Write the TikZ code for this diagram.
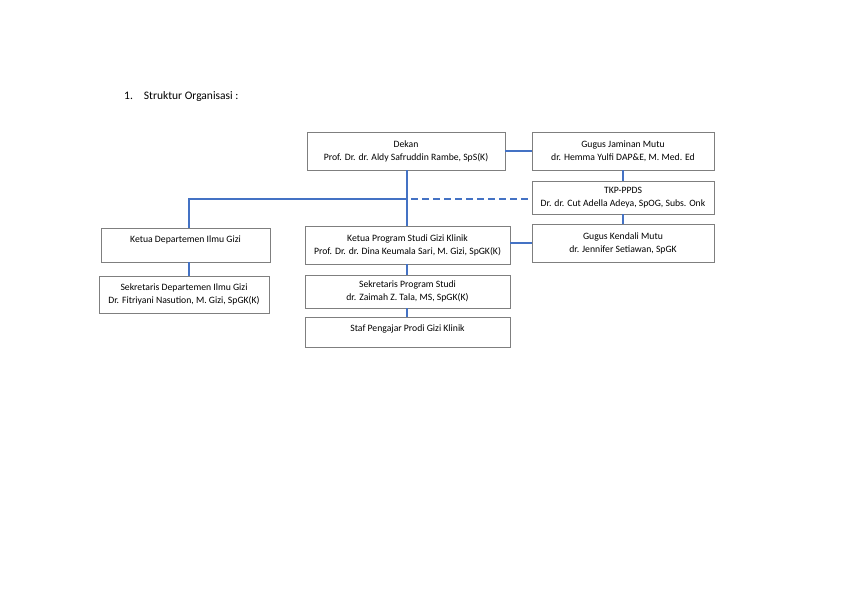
\documentclass[tikz,border=0pt]{standalone}
\usepackage{fontspec}
\setmainfont{Carlito}
\definecolor{lineblue}{HTML}{4472C4}
\definecolor{boxgray}{HTML}{7F7F7F}
\tikzset{
  boxfont/.style={font=\fontsize{9.7}{13}\selectfont},
  orgbox/.style={draw=boxgray, line width=0.8pt, fill=white, inner sep=0pt, boxfont, align=center},
  conn/.style={draw=lineblue, line width=2.2pt},
  connthin/.style={draw=lineblue, line width=1.6pt},
}
\begin{document}
\begin{tikzpicture}[x=1pt,y=-1pt]
\useasboundingbox (0,0) rectangle (842,595);
\node[anchor=west, font=\fontsize{11.5}{13}\selectfont, inner sep=0pt] (title) at (124,96) {1.\hspace{11pt}Struktur Organisasi :};

% boxes
\node[orgbox, minimum width=198pt, minimum height=38pt] (dekan) at (406,151) {Dekan\\Prof. Dr. dr. Aldy Safruddin Rambe, SpS(K)};
\node[orgbox, minimum width=182pt, minimum height=38pt] (gjm) at (623,151) {Gugus Jaminan Mutu\\dr. Hemma Yulfi DAP\&E, M. Med. Ed};
\node[orgbox, minimum width=182pt, minimum height=33pt] (tkp) at (623,197.5) {TKP-PPDS\\Dr. dr. Cut Adella Adeya, SpOG, Subs. Onk};
\node[orgbox, minimum width=182pt, minimum height=38pt] (gkm) at (623,243) {Gugus Kendali Mutu\\dr. Jennifer Setiawan, SpGK};
\node[orgbox, minimum width=169pt, minimum height=34pt] (kdep) at (185.5,245) {};
\node[boxfont, anchor=north, inner sep=0pt] (kdeptext) at (185.5,236) {Ketua Departemen Ilmu Gizi};
\node[orgbox, minimum width=170pt, minimum height=37pt] (sdep) at (184,294.5) {Sekretaris Departemen Ilmu Gizi\\Dr. Fitriyani Nasution, M. Gizi, SpGK(K)};
\node[orgbox, minimum width=205pt, minimum height=38pt] (kps) at (407.5,245) {Ketua Program Studi Gizi Klinik\\Prof. Dr. dr. Dina Keumala Sari, M. Gizi, SpGK(K)};
\node[orgbox, minimum width=205pt, minimum height=33pt] (sps) at (407.5,291.5) {Sekretaris Program Studi\\dr. Zaimah Z. Tala, MS, SpGK(K)};
\node[orgbox, minimum width=205pt, minimum height=30pt] (staf) at (407.5,332) {};
\node[boxfont, anchor=north, inner sep=0pt] (staftext) at (407.5,325) {Staf Pengajar Prodi Gizi Klinik};

% junction coordinates
\coordinate (jc) at (407,199);
\coordinate (jl) at (189,199);

% connectors
\draw[connthin] (dekan.east) -- (gjm.west);
\draw[connthin] (gjm.south) -- (tkp.north);
\draw[connthin] (tkp.south) -- (gkm.north);
\draw[conn, line width=2.8pt] (dekan.south -| jc) -- (kps.north -| jc);
\draw[conn] (jc) -- (jl) -- (kdep.north -| jl);
\draw[conn, dash pattern=on 7pt off 4pt] ([xshift=4pt]jc) -- (tkp.west |- jc);
\draw[connthin] (kdep.south -| jl) -- (sdep.north -| jl);
\draw[connthin] (kps.east |- 0,243) -- (gkm.west |- 0,243);
\draw[conn] (kps.south -| jc) -- (sps.north -| jc);
\draw[conn] (sps.south -| jc) -- (staf.north -| jc);
\end{tikzpicture}
\end{document}
